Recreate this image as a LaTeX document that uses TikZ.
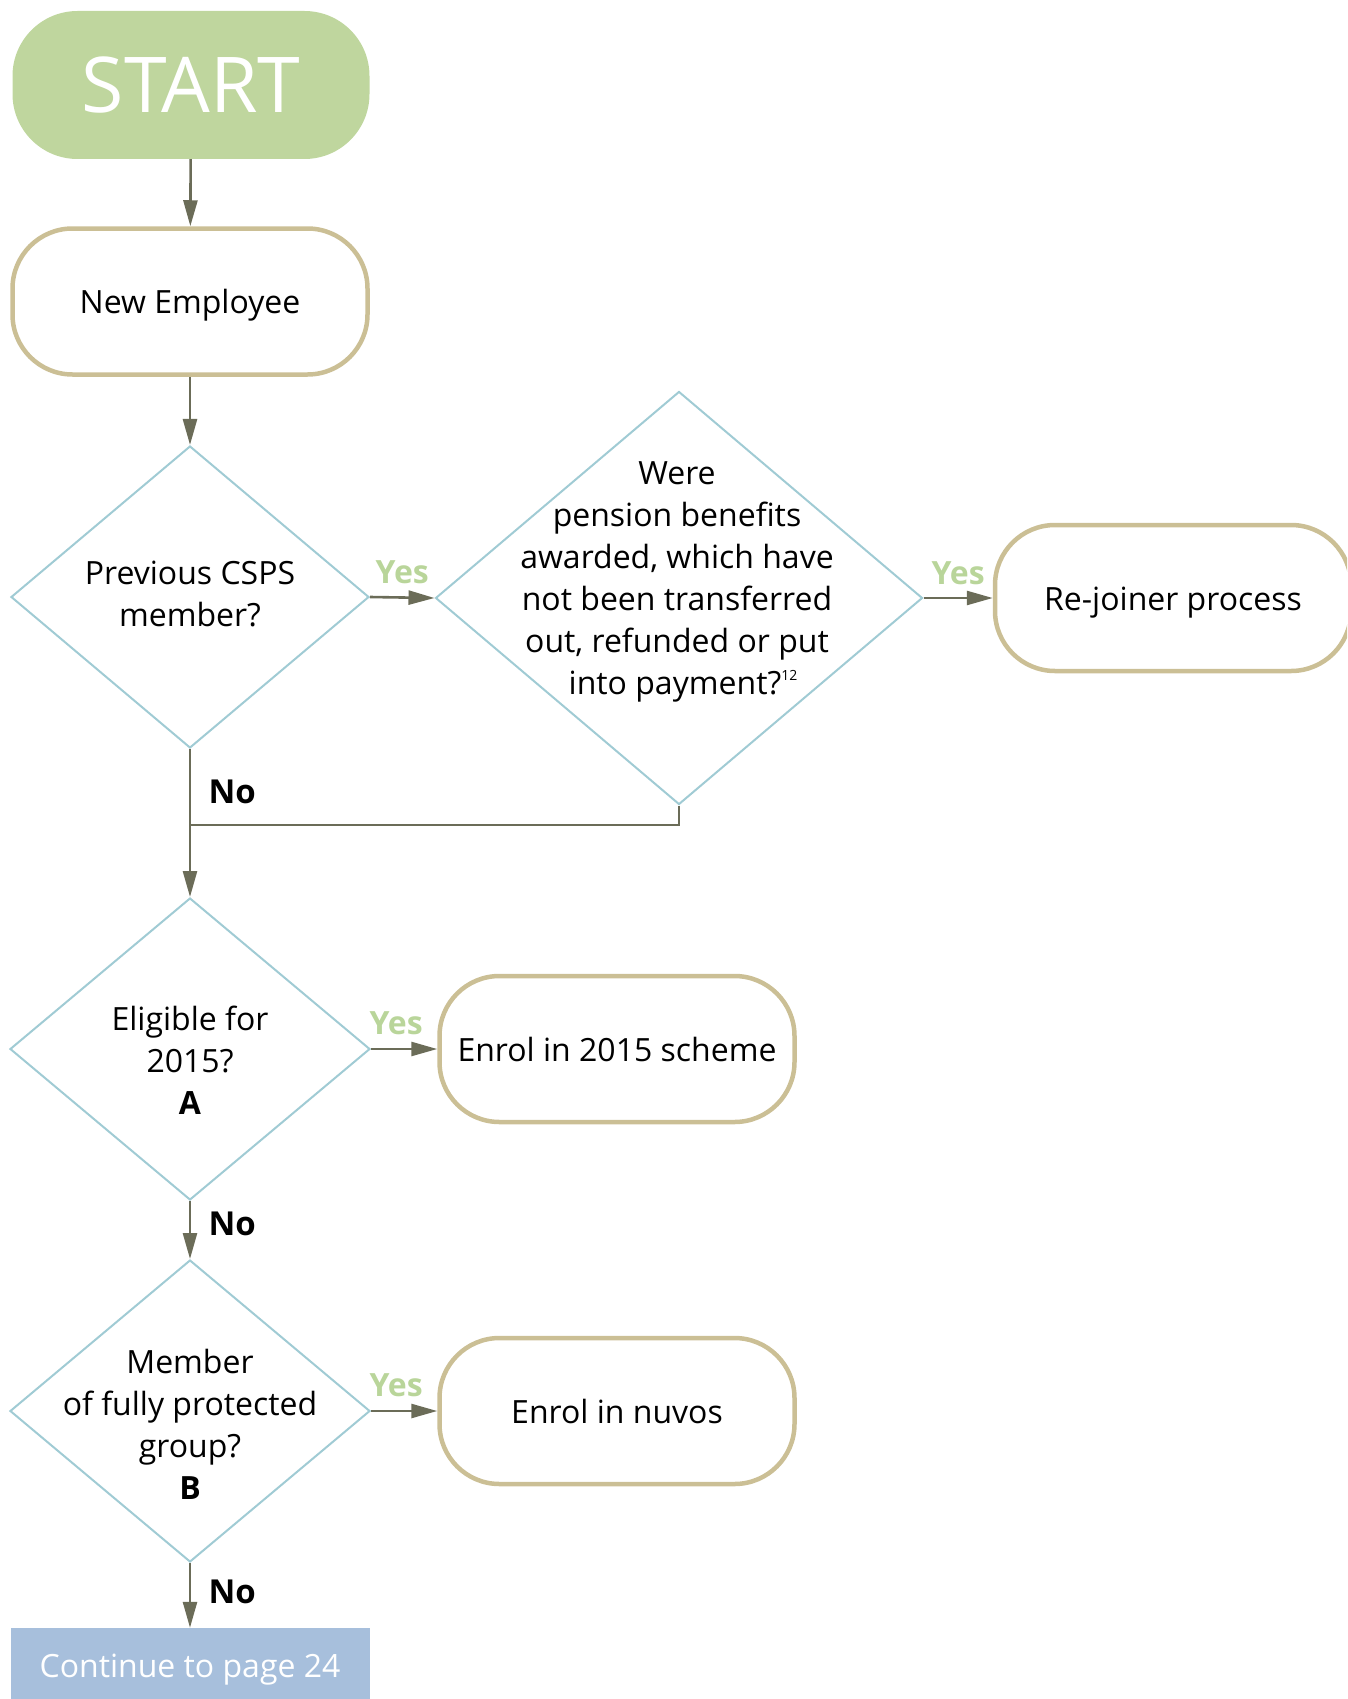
\documentclass[tikz,border=0pt]{standalone}
\usepackage{fontspec}
\setmainfont{Open Sans}
\usetikzlibrary{shapes.geometric,arrows.meta,calc}
\definecolor{startg}{HTML}{BFD69E}
\definecolor{tanc}{HTML}{CBBF95}
\definecolor{diab}{HTML}{A0CBD4}
\definecolor{arrg}{HTML}{6B6C58}
\definecolor{yesg}{HTML}{B9D59A}
\definecolor{contb}{HTML}{A7BFDC}
\tikzset{
 body/.style={font=\fontsize{32}{42}\selectfont, text=black},
 terminal/.style={rectangle, rounded corners=60pt, draw=tanc, line width=4.5pt,
   minimum width=355pt, minimum height=146pt, body, text height=24pt, text depth=0pt},
 decision/.style={diamond, draw=diab, line width=2pt, inner sep=0pt},
 qtext/.style={body, align=center},
 arr/.style={draw=arrg, line width=2.6pt, -{Triangle[length=26pt,width=14pt]}},
 plainline/.style={draw=arrg, line width=2.6pt},
 yeslab/.style={font=\fontsize{32}{40}\selectfont\bfseries, text=yesg, anchor=base},
 nolab/.style={font=\fontsize{33}{40}\selectfont\bfseries, text=black, anchor=base west},
}
\begin{document}
\begin{tikzpicture}[x=1pt,y=-1pt]
\useasboundingbox (0,0) rectangle (1347,1699);
\clip (0,0) rectangle (1347,1699);

% nodes
\node[rectangle, rounded corners=65pt, fill=startg, minimum width=357pt, minimum height=148pt,
  font=\fontsize{77}{77}\selectfont, text=white] (start) at (191,85) {START};
\node[terminal] (ne) at (190,301.5) {New Employee};

\node[decision, minimum width=358pt, minimum height=302pt] (d1) at (190,597) {};
\node[qtext] (t1) at (190,594) {Previous CSPS\\member?};

\node[decision, minimum width=487pt, minimum height=413pt] (d2) at (679,598) {};
\node[qtext] (t2) at (677,582) {Were\\pension benefits\\awarded, which have\\not been transferred\\out, refunded or put\\\hspace*{12pt}into payment?\raisebox{14pt}{\fontsize{14}{14}\selectfont 12}};

\node[terminal, minimum width=356pt] (rj) at (1173,598) {Re-joiner process};

\coordinate (jn) at (190,825);

\node[decision, minimum width=360pt, minimum height=302pt] (d3) at (190,1049) {};
\node[qtext] (t3) at (190,1060) {Eligible for\\2015?\\\textbf{A}};
\node[terminal] (e15) at (617,1049) {Enrol in 2015 scheme};

\node[decision, minimum width=360pt, minimum height=302pt] (d4) at (190,1411) {};
\node[qtext] (t4) at (190,1424) {Member\\of fully protected\\group?\\\textbf{B}};
\node[terminal] (nuv) at (617,1411) {Enrol in nuvos};

\node[rectangle, fill=contb, minimum width=359pt, minimum height=74pt, inner sep=0pt,
  body, text=white, text height=24pt, text depth=0pt] (cont) at (190,1665) {Continue to page 24};

% connectors
\draw[arr] (start) -- (ne);
\draw[arr] (ne) -- (d1);
\draw[arr] (d1.east) -- node[yeslab, yshift=14pt] (y1) {Yes} (d2.west);
\draw[arr] (d2.east) -- node[yeslab, yshift=14pt] (y2) {Yes} (rj.west);
\draw[plainline] (d2.south) |- (jn);
\draw[arr] (d1.south) -- (d3.north);
\node[nolab] (n1) at (205,803) {No};
\draw[arr] (d3.east) -- node[yeslab, yshift=15pt, xshift=-8pt] (y3) {Yes} (e15.west);
\draw[arr] (d3.south) -- (d4.north);
\node[nolab] (n2) at (205,1235) {No};
\draw[arr] (d4.east) -- node[yeslab, yshift=15pt, xshift=-8pt] (y4) {Yes} (nuv.west);
\draw[arr] (d4.south) -- (cont.north);
\node[nolab] (n3) at (205,1603) {No};
\end{tikzpicture}
\end{document}
